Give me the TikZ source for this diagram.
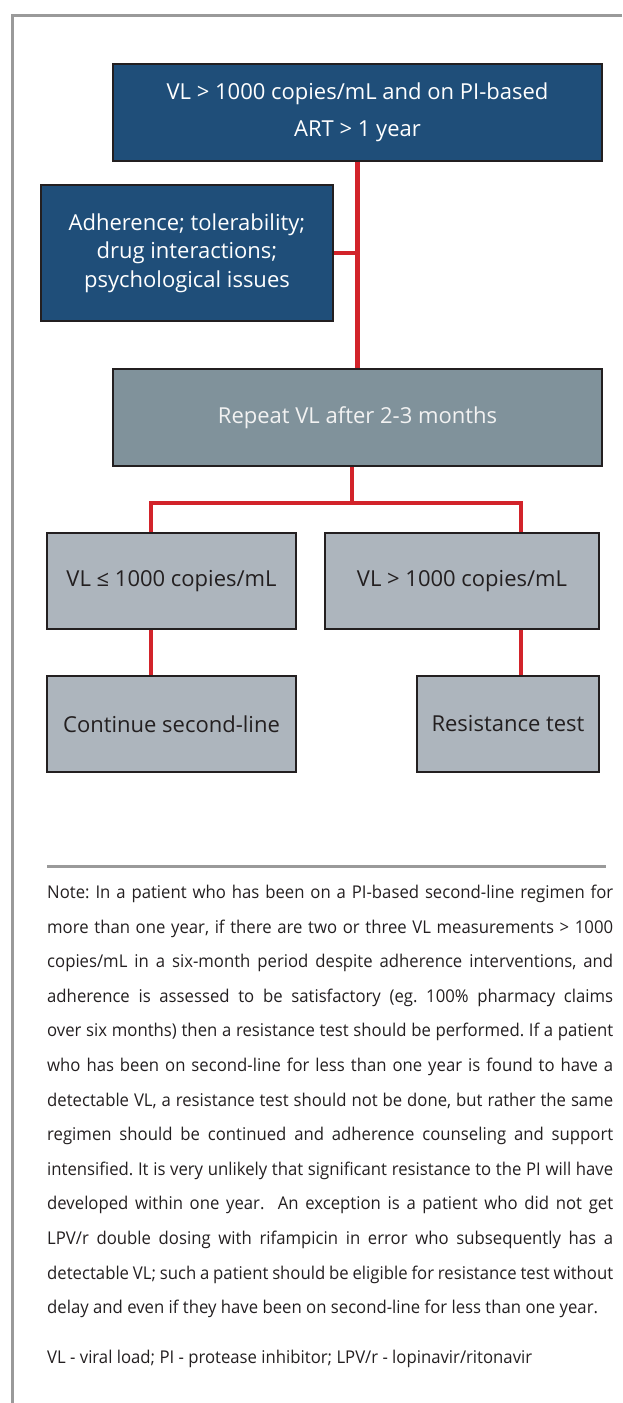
\documentclass[tikz,border=0pt]{standalone}
\usepackage{fontspec}
\setmainfont{Open Sans}
\newfontfamily\notefont[FakeStretch=0.95]{Open Sans}
\definecolor{dblue}{HTML}{1F4E79}
\definecolor{slate}{HTML}{80929B}
\definecolor{lgray}{HTML}{ADB5BD}
\definecolor{redl}{HTML}{D2232A}
\definecolor{framegray}{HTML}{9A9A9A}
\definecolor{ink}{HTML}{231F20}
\tikzset{
  box/.style={draw=ink, line width=2.5pt, rectangle, inner sep=0pt, align=center},
  bluebox/.style={box, fill=dblue, text=white},
  slatebox/.style={box, fill=slate, text=white!95!black, font=\fontsize{22}{30}\selectfont},
  graybox/.style={box, fill=lgray, text=ink, font=\fontsize{22}{30}\selectfont},
  link/.style={draw=redl, line width=4.5pt},
  rule/.style={draw=framegray, line width=3pt},
  noteline/.style={anchor=base west, inner sep=0pt, text=ink, font=\notefont\fontsize{17.6}{20}\selectfont\frenchspacing},
}
\newcommand{\jl}[1]{\makebox[566pt][s]{#1}}
\begin{document}
\begin{tikzpicture}[x=1pt,y=-1pt]
\useasboundingbox (0,0) rectangle (622,1403);
% frame
\draw[rule] (622,15) -- (12,15) -- (12,1403);
% boxes
\node[bluebox, minimum width=489pt, minimum height=97pt, font=\fontsize{22}{37}\selectfont] (b1) at (357.5,112.5) {VL > 1000 copies/mL and on PI-based\\ART > 1 year};
\node[bluebox, minimum width=292pt, minimum height=136pt, font=\fontsize{22}{28.5}\selectfont] (b2) at (187,253) {Adherence; tolerability;\\drug interactions;\\psychological issues};
\node[slatebox, minimum width=489pt, minimum height=97pt] (b3) at (357.5,417.5) {Repeat VL after 2-3 months};
\node[graybox, minimum width=249pt, minimum height=96pt] (b4) at (171.5,581) {VL ≤ 1000 copies/mL};
\node[graybox, minimum width=274pt, minimum height=96pt] (b5) at (462,581) {VL > 1000 copies/mL};
\node[graybox, minimum width=249pt, minimum height=96pt] (b6) at (171.5,724) {Continue second-line};
\node[graybox, minimum width=182pt, minimum height=96pt] (b7) at (508,724) {Resistance test};
% connectors
\coordinate (jm) at (352,503);
\coordinate (jl) at (151,503);
\coordinate (jr) at (521,503);
\draw[link] (b1.south) -- (b3.north);
\draw[link] (b2.east) -- (b2.east -| b1.south);
\draw[link] (b3.south -| jm) -- (jm);
\draw[link] (jl |- b4.north) -- (jl) -- (jr) -- (jr |- b5.north);
\draw[link] (jl |- b4.south) -- (jl |- b6.north);
\draw[link] (jr |- b5.south) -- (jr |- b7.north);
% note
\coordinate (rl) at (47,866);
\coordinate (rr) at (606,866);
\draw[rule] (rl) -- (rr);
\foreach \t [count=\i] in {
  {\jl{Note: In a patient who has been on a PI-based second-line regimen for}},
  {\jl{more than one year, if there are two or three VL measurements > 1000}},
  {\jl{copies/mL in a six-month period despite adherence interventions, and}},
  {\jl{adherence is assessed to be satisfactory (eg. 100\% pharmacy claims}},
  {\jl{over six months) then a resistance test should be performed. If a patient}},
  {\jl{who has been on second-line for less than one year is found to have a}},
  {\jl{detectable VL, a resistance test should not be done, but rather the same}},
  {\jl{regimen should be continued and adherence counseling and support}},
  {\jl{intensified. It is very unlikely that significant resistance to the PI will have}},
  {\jl{developed within one year.\ \ An exception is a patient who did not get}},
  {\jl{LPV/r double dosing with rifampicin in error who subsequently has a}},
  {\jl{detectable VL; such a patient should be eligible for resistance test without}},
  {delay and even if they have been on second-line for less than one year.}}
  \node[noteline] (n\i) at (47, 898.5+34.6*\i-34.6) {\t};
\node[noteline] (abbr) at (47,1363.5) {VL - viral load; PI - protease inhibitor; LPV/r - lopinavir/ritonavir};
\end{tikzpicture}
\end{document}
